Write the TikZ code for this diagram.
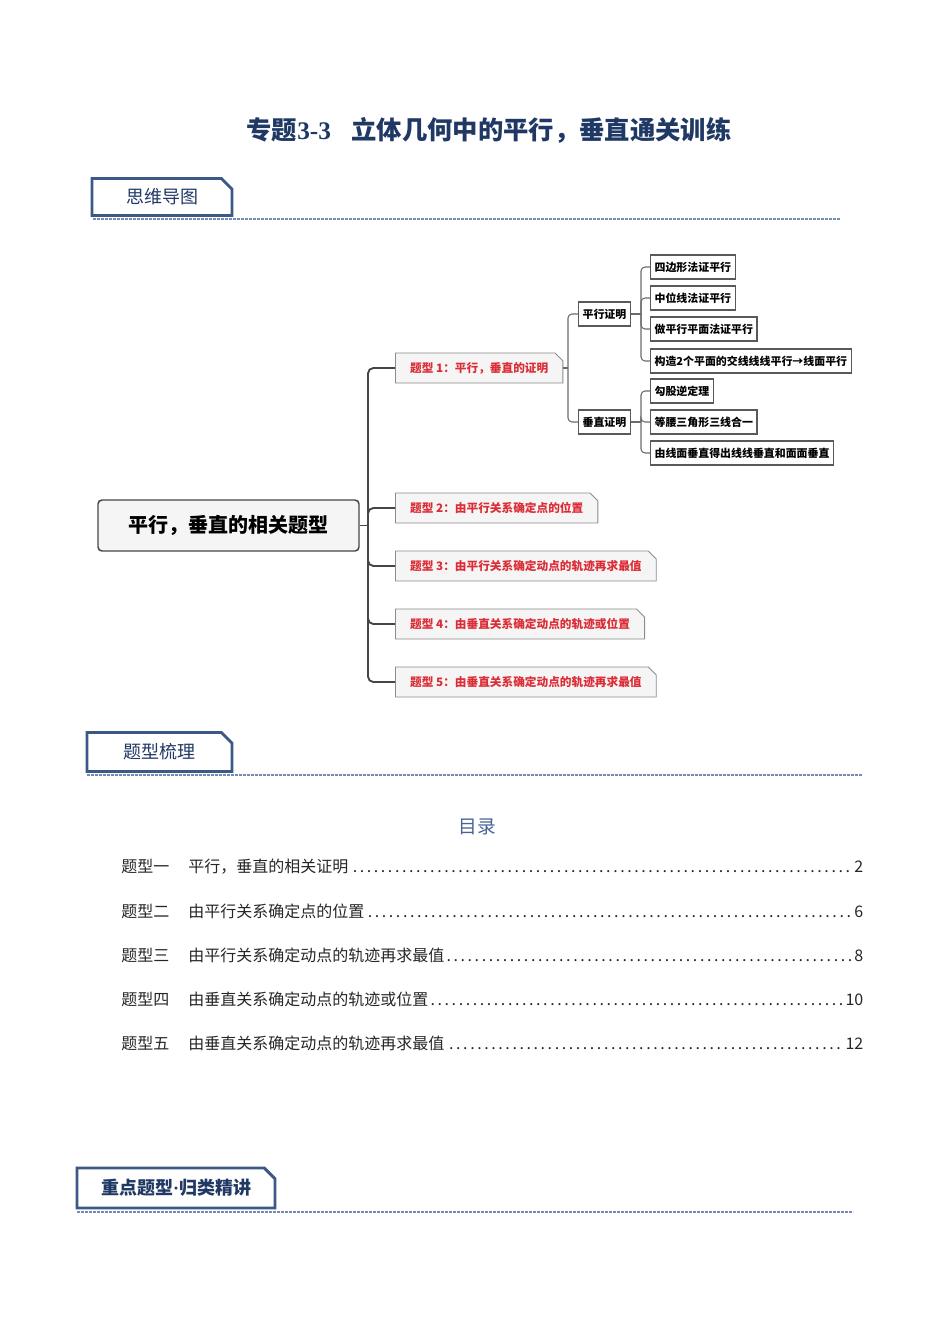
\documentclass[tikz,border=0pt]{standalone}
\usepackage{fontspec}
\setmainfont{Noto Sans CJK SC}
\newfontfamily\numfont{Liberation Serif}
\usetikzlibrary{shapes.misc,positioning}
\definecolor{navy}{RGB}{32,56,100}
\definecolor{secedge}{RGB}{60,88,132}
\definecolor{secdash}{RGB}{115,140,178}
\definecolor{mapred}{RGB}{220,45,55}
\definecolor{mapline}{RGB}{70,70,70}
\definecolor{mapfill}{RGB}{245,245,245}
\definecolor{tocblue}{RGB}{70,100,150}
\tikzstyle{secbox}=[chamfered rectangle,chamfered rectangle corners=north east,chamfered rectangle sep=4pt,draw=secedge,line width=2.2pt,fill=white,text=navy,inner sep=0pt]
\tikzstyle{secrule}=[secdash,line width=0.8pt,dash pattern=on 2pt off 1pt]
\tikzstyle{rootbox}=[rectangle,rounded corners=3pt,draw=mapline,line width=1.1pt,fill=mapfill,minimum width=195.75pt,minimum height=38.25pt,font=\fontsize{15}{15}\selectfont\bfseries]
\tikzstyle{typebox}=[chamfered rectangle,chamfered rectangle corners=north east,chamfered rectangle sep=3pt,draw=black!45,line width=0.7pt,fill=mapfill,text=mapred,anchor=west,minimum height=22.5pt,inner xsep=8pt,font=\fontsize{8.75}{9}\selectfont\bfseries]
\tikzstyle{subbox}=[rectangle,draw=black!65,line width=0.9pt,fill=white,anchor=west,minimum height=18pt,inner xsep=3pt,font=\fontsize{8.2}{8.2}\selectfont\bfseries]
\tikzstyle{trunk}=[mapline,line width=1.4pt,rounded corners=4pt]
\tikzstyle{twig}=[mapline!80,line width=0.8pt,rounded corners=3pt]
\tikzstyle{tocline}=[anchor=west,inner sep=0pt,font=\fontsize{12}{12}\selectfont,text=black!85]

\begin{document}
\begin{tikzpicture}[x=0.75pt,y=-0.75pt]
\useasboundingbox (0,0) rectangle (950,1344);
% title and section heads
\node[text=navy,font=\fontsize{19}{19}\selectfont\bfseries] (title) at (489,130) {专题{\numfont 3-3}\hspace{0.8em}立体几何中的平行，垂直通关训练};
\node[secbox,minimum width=105pt,minimum height=27.75pt,font=\fontsize{13.5}{13.5}\selectfont] (sec1) at (162,197) {思维导图};
\node[secbox,minimum width=108.75pt,minimum height=29.25pt,font=\fontsize{13.5}{13.5}\selectfont] (sec2) at (159.5,752) {题型梳理};
\node[secbox,minimum width=148.5pt,minimum height=30pt,font=\fontsize{13.5}{13.5}\selectfont\bfseries] (sec3) at (176,1188) {重点题型{\numfont ·}归类精讲};
\coordinate (r1a) at (93,219);\coordinate (r1b) at (840,219);
\coordinate (r2a) at (87,775);\coordinate (r2b) at (862,775);
\coordinate (r3a) at (77,1212);\coordinate (r3b) at (853,1212);
\draw[secrule] (r1a)--(r1b);\draw[secrule] (r2a)--(r2b);\draw[secrule] (r3a)--(r3b);
% mind map
\node[rootbox] (root) at (228.5,525.5) {平行，垂直的相关题型};
\node[typebox] (b1) at (395,368) {题型 1：平行，垂直的证明};
\node[typebox] (b2) at (395,508) {题型 2：由平行关系确定点的位置};
\node[typebox] (b3) at (395,566) {题型 3：由平行关系确定动点的轨迹再求最值};
\node[typebox] (b4) at (395,624) {题型 4：由垂直关系确定动点的轨迹或位置};
\node[typebox] (b5) at (395,682) {题型 5：由垂直关系确定动点的轨迹再求最值};
\node[subbox] (par) at (578,314) {平行证明};
\node[subbox] (per) at (578,422) {垂直证明};
\node[subbox] (p1) at (650,267) {四边形法证平行};
\node[subbox] (p2) at (650,298) {中位线法证平行};
\node[subbox] (p3) at (650,329) {做平行平面法证平行};
\node[subbox] (p4) at (650,361) {构造2个平面的交线线线平行→线面平行};
\node[subbox] (q1) at (650,391) {勾股逆定理};
\node[subbox] (q2) at (650,422) {等腰三角形三线合一};
\node[subbox] (q3) at (650,453) {由线面垂直得出线线垂直和面面垂直};
\coordinate (t0) at (368,525.5);\coordinate (t1) at (568,368);
\coordinate (t2) at (641,314);\coordinate (t3) at (641,422);
\draw[trunk](root.east)--(t0);
\draw[trunk](t0)|-(b1.west);\draw[trunk](t0)|-(b2.west);\draw[trunk](t0)|-(b3.west);
\draw[trunk](t0)|-(b4.west);\draw[trunk](t0)|-(b5.west);
\draw[twig](b1.east)--(t1);\draw[twig](t1)|-(par.west);\draw[twig](t1)|-(per.west);
\draw[twig](par.east)--(t2);\draw[twig](t2)|-(p1.west);\draw[twig](t2)|-(p2.west);
\draw[twig](t2)|-(p3.west);\draw[twig](t2)|-(p4.west);
\draw[twig](per.east)--(t3);\draw[twig](t3)|-(q1.west);\draw[twig](t3)|-(q2.west);\draw[twig](t3)|-(q3.west);
% contents
\node[text=tocblue,font=\fontsize{14}{14}\selectfont] (toc) at (477,827) {目录};
\node[tocline] (toc1) at (121,867) {\makebox[556.5pt]{题型一\hspace{1.2em}平行，垂直的相关证明\dotfill 2}};
\node[tocline] (toc2) at (121,911) {\makebox[556.5pt]{题型二\hspace{1.2em}由平行关系确定点的位置\dotfill 6}};
\node[tocline] (toc3) at (121,955) {\makebox[556.5pt]{题型三\hspace{1.2em}由平行关系确定动点的轨迹再求最值\dotfill 8}};
\node[tocline] (toc4) at (121,999) {\makebox[556.5pt]{题型四\hspace{1.2em}由垂直关系确定动点的轨迹或位置\dotfill 10}};
\node[tocline] (toc5) at (121,1043) {\makebox[556.5pt]{题型五\hspace{1.2em}由垂直关系确定动点的轨迹再求最值\dotfill 12}};
\end{tikzpicture}
\end{document}
